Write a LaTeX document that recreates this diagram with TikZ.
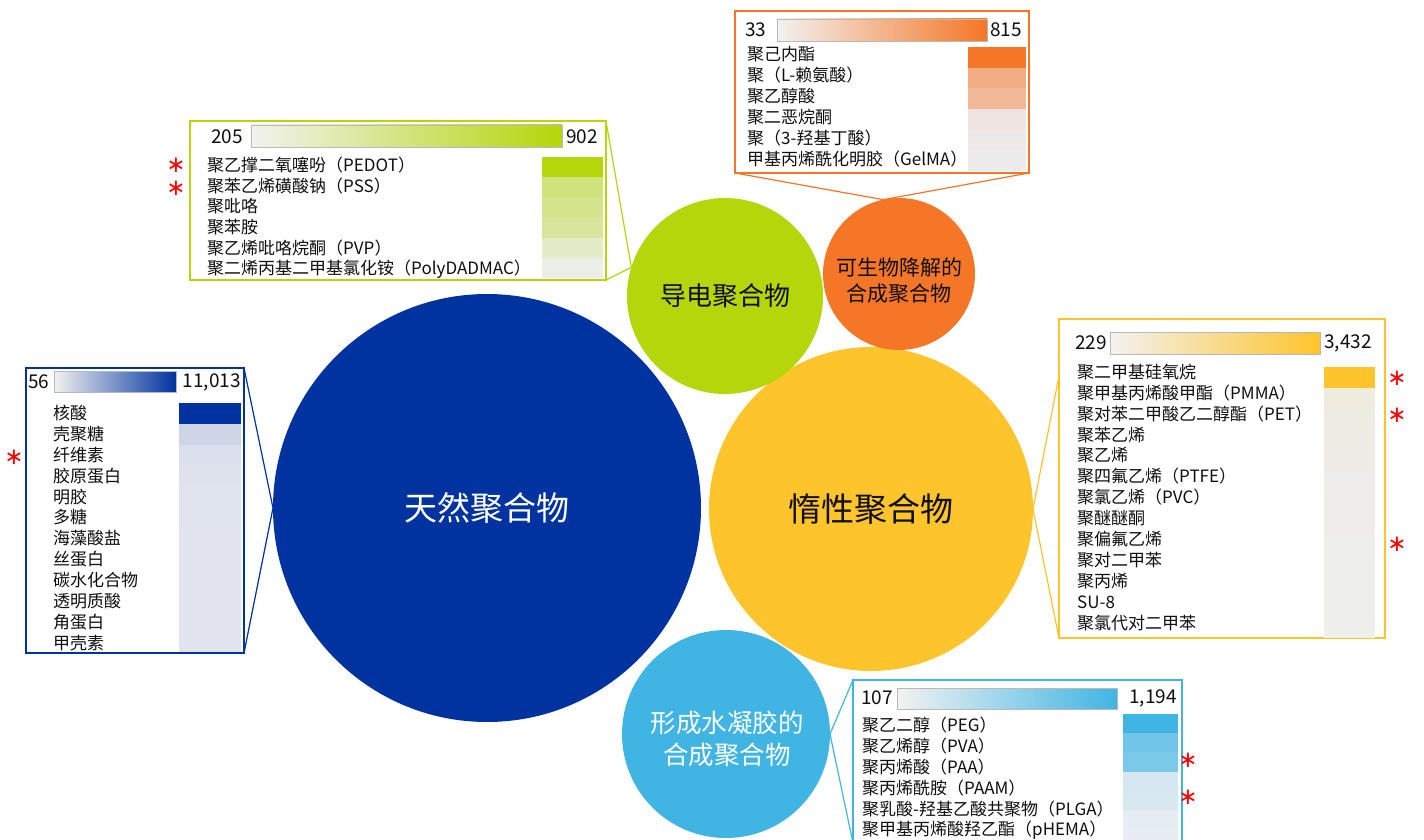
\documentclass[tikz,border=0pt]{standalone}
\usepackage{fontspec}
\setmainfont{Noto Sans CJK SC}
\newfontfamily\astfont{DejaVu Sans}
\usetikzlibrary{calc}

\definecolor{natblue}{RGB}{0,51,160}
\definecolor{inertyel}{RGB}{254,196,43}
\definecolor{condgreen}{RGB}{180,214,10}
\definecolor{bioorange}{RGB}{245,118,38}
\definecolor{hydroblue}{RGB}{64,181,228}
\definecolor{stripbase}{RGB}{238,239,243}
\definecolor{barleft}{RGB}{242,242,240}
\definecolor{ink}{RGB}{15,15,15}

\tikzset{
  bubble/.style={circle, inner sep=0pt, outer sep=0pt, align=center},
  bubbletext/.style={inner sep=0pt, align=center},
  listbox/.style={draw=#1, line width=1.4pt, fill=white, inner sep=0pt, outer sep=0pt, anchor=north west},
  callout/.style={draw=#1, line width=1.2pt},
  entry/.style={anchor=west, inner sep=0pt, text=ink, font=\fontsize{17}{18}\selectfont},
  scalenum/.style={inner sep=0pt, text=ink, font=\fontsize{19}{20}\selectfont},
  scalebar/.style={left color=barleft, right color=#1, draw=gray!55, line width=0.8pt},
  star/.style={inner sep=0pt, text=red, font=\astfont\fontsize{23}{23}\selectfont},
}

\begin{document}
\begin{tikzpicture}[x=1pt, y=-1pt]
    \useasboundingbox (0,0) rectangle (1424,840);

    % the five bubbles
    \node [bubble, fill=natblue, minimum size=428pt, text=white,
           font=\fontsize{33}{40}\selectfont] (natural) at (487,508) {天然聚合物};
    \node [bubble, fill=inertyel, minimum size=324pt, text=ink,
           font=\fontsize{33}{40}\selectfont] (inert) at (871,509) {惰性聚合物};
    \node [bubble, fill=condgreen, minimum size=196pt, text=ink,
           font=\fontsize{26}{30}\selectfont] (cond) at (725,296) {导电聚合物};
    \node [bubble, fill=bioorange, minimum size=152pt] (bio) at (899,274) {};
    \node [bubbletext, text=ink, font=\fontsize{21}{26}\selectfont] (biotext) at (899,281) {可生物降解的\\合成聚合物};
    \node [bubble, fill=hydroblue, minimum size=208pt] (hydro) at (726,734) {};
    \node [bubbletext, text=white, font=\fontsize{25.5}{32}\selectfont] (hydrotext) at (727,739) {形成水凝胶的\\合成聚合物};

    % conducting polymers
    \node [listbox=condgreen, minimum width=416pt, minimum height=159pt] (gbox) at (190,121) {};
    \draw [callout=condgreen] (gbox.north east) -- (cond.163) -- (gbox.south east);
    \shade [scalebar=condgreen] (251,125) rectangle (562,147);
    \node [scalenum, anchor=east] (glow) at (243,137) {205};
    \node [scalenum, anchor=west] (ghigh) at (566,137) {902};
    \foreach \p [count=\i] in {100,52,44,38,18,4}
      \fill [condgreen!\p!stripbase] (542,{157+20.2*(\i-1)}) rectangle ++(61,20.2);
    \foreach \t [count=\i] in {聚乙撑二氧噻吩（PEDOT）, 聚苯乙烯磺酸钠（PSS）, 聚吡咯, 聚苯胺,
        聚乙烯吡咯烷酮（PVP）, 聚二烯丙基二甲基氯化铵（PolyDADMAC）}
      \node [entry] (g\i) at (207,{165+20.8*(\i-1)}) {\t};
    \node [star] (gs1) at (176,165) {∗};
    \node [star] (gs2) at (176,188) {∗};

    % biodegradable polymers
    \node [listbox=bioorange, minimum width=294pt, minimum height=162pt] (obox) at (735,11) {};
    \draw [callout=bioorange] (obox.south west) -- (bio.102) -- (obox.south east);
    \shade [scalebar=bioorange] (777,19) rectangle (987,41);
    \node [scalenum, anchor=west] (olow) at (745,30) {33};
    \node [scalenum, anchor=west] (ohigh) at (990,30) {815};
    \foreach \p [count=\i] in {100,55,45,9,5,3}
      \fill [bioorange!\p!stripbase] (968,{47+20.7*(\i-1)}) rectangle ++(58,20.7);
    \foreach \t [count=\i] in {聚己内酯, 聚（L-赖氨酸）, 聚乙醇酸, 聚二恶烷酮, 聚（3-羟基丁酸）,
        甲基丙烯酰化明胶（GelMA）}
      \node [entry] (o\i) at (747,{54+21*(\i-1)}) {\t};

    % natural polymers
    \node [listbox=natblue, minimum width=218pt, minimum height=285pt] (nbox) at (26,368) {};
    \draw [callout=natblue] (nbox.north east) -- (natural.west) -- (nbox.south east);
    \shade [scalebar=natblue] (54,371) rectangle (176,392);
    \node [scalenum, anchor=west] (nlow) at (28,382) {56};
    \node [scalenum, anchor=east] (nhigh) at (241,382) {11,013};
    \foreach \p [count=\i] in {100,14,8,7,6,6,5,5,5,5,5,5}
      \fill [natblue!\p!stripbase] (179,{403+20.75*(\i-1)}) rectangle ++(62,20.75);
    \foreach \t [count=\i] in {核酸, 壳聚糖, 纤维素, 胶原蛋白, 明胶, 多糖, 海藻酸盐, 丝蛋白,
        碳水化合物, 透明质酸, 角蛋白, 甲壳素}
      \node [entry] (n\i) at (53,{413+20.9*(\i-1)}) {\t};
    \node [star] (ns1) at (14,457) {∗};

    % inert polymers
    \node [listbox=inertyel, minimum width=326pt, minimum height=319pt] (ybox) at (1059,319) {};
    \coordinate (ytop) at ($(ybox.north west)+(0,57)$);
    \draw [callout=inertyel] (ytop) -- (inert.east) -- (ybox.south west);
    \shade [scalebar=inertyel] (1110,332) rectangle (1320,354);
    \node [scalenum, anchor=east] (ylow) at (1107,343) {229};
    \node [scalenum, anchor=west] (yhigh) at (1324,343) {3,432};
    \foreach \p [count=\i] in {100,10,8,7,6,5,4,4,3,3,3,3,3}
      \fill [inertyel!\p!stripbase] (1324,{367+20.85*(\i-1)}) rectangle ++(51,20.85);
    \foreach \t [count=\i] in {聚二甲基硅氧烷, 聚甲基丙烯酸甲酯（PMMA）, 聚对苯二甲酸乙二醇酯（PET）,
        聚苯乙烯, 聚乙烯, 聚四氟乙烯（PTFE）, 聚氯乙烯（PVC）, 聚醚醚酮, 聚偏氟乙烯,
        聚对二甲苯, 聚丙烯, SU-8, 聚氯代对二甲苯}
      \node [entry] (y\i) at (1077,{372+20.9*(\i-1)}) {\t};
    \node [star] (ys1) at (1397,378) {∗};
    \node [star] (ys2) at (1397,415) {∗};
    \node [star] (ys3) at (1397,544) {∗};

    % hydrogel forming polymers
    \node [listbox=hydroblue, minimum width=329pt, minimum height=163pt] (hbox) at (853,680) {};
    \draw [callout=hydroblue] (hbox.north west) -- (hydro.east) -- (hbox.south west);
    \shade [scalebar=hydroblue] (897,688) rectangle (1117,709);
    \node [scalenum, anchor=east] (hlow) at (893,698) {107};
    \node [scalenum, anchor=east] (hhigh) at (1177,698) {1,194};
    \foreach \p [count=\i] in {100,72,66,14,13,5,4}
      \fill [hydroblue!\p!stripbase] (1123,{714+19.2*(\i-1)}) rectangle ++(55,19.2);
    \foreach \t [count=\i] in {聚乙二醇（PEG）, 聚乙烯醇（PVA）, 聚丙烯酸（PAA）, 聚丙烯酰胺（PAAM）,
        聚乳酸-羟基乙酸共聚物（PLGA）, 聚甲基丙烯酸羟乙酯（pHEMA）}
      \node [entry] (h\i) at (862,{725+21*(\i-1)}) {\t};
    \node [star] (hs1) at (1188,760) {∗};
    \node [star] (hs2) at (1188,797) {∗};
\end{tikzpicture}
\end{document}
